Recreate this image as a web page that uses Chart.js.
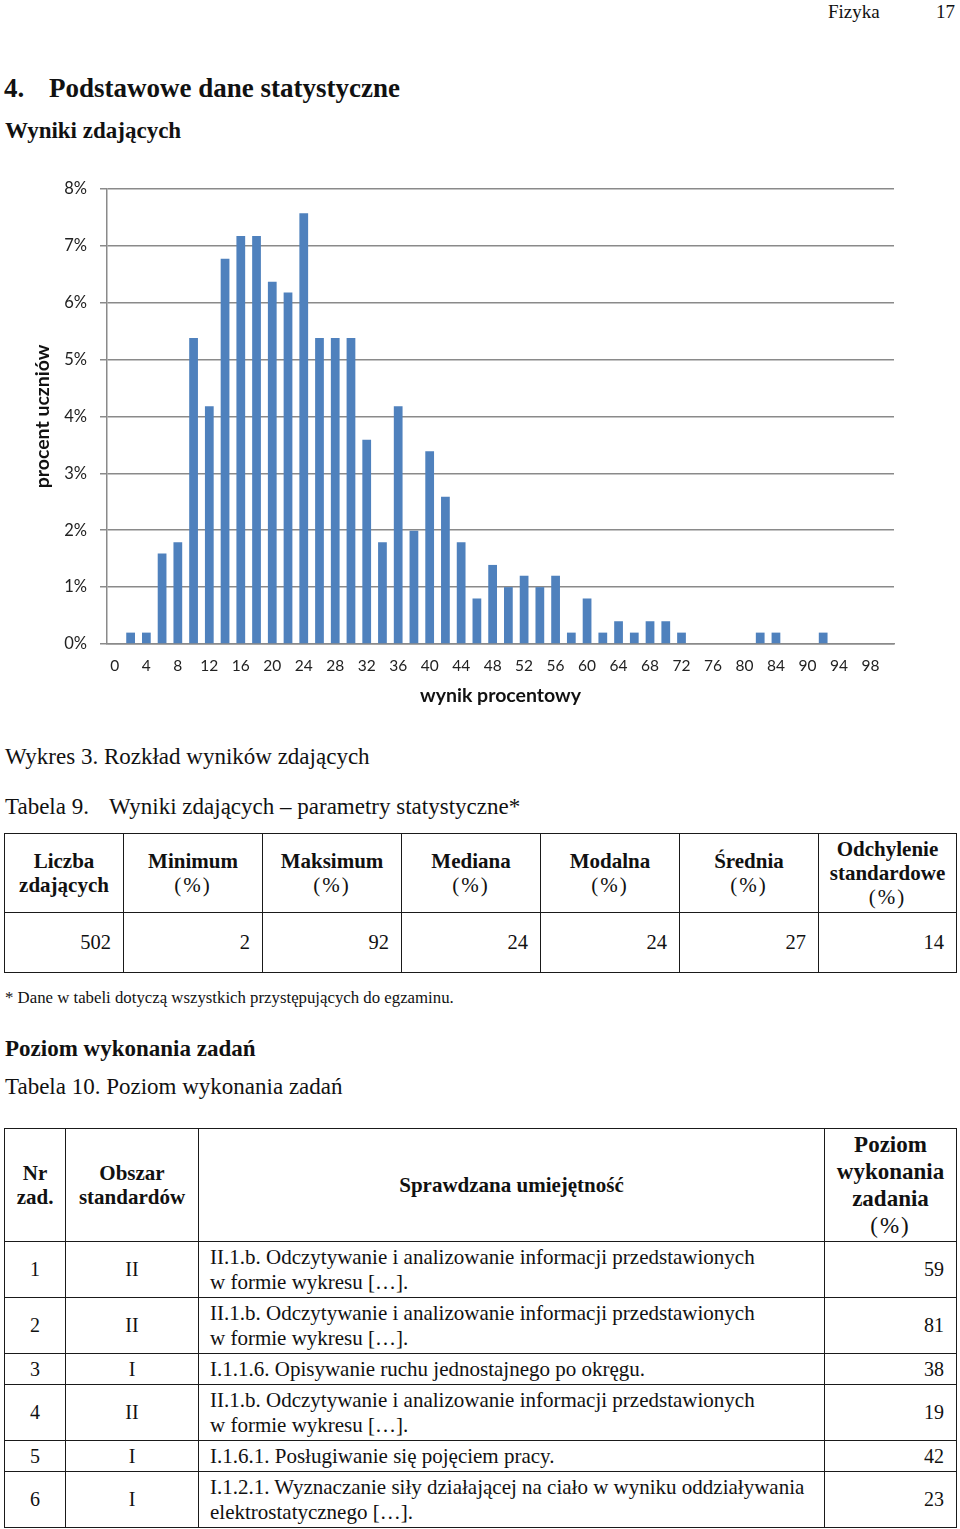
<!DOCTYPE html>
<html lang="pl">
<head>
<meta charset="utf-8">
<title>Rozkład wyników zdających</title>
<script src="https://cdn.jsdelivr.net/npm/chart.js@4.4.1/dist/chart.umd.min.js"></script>
<style>
  html, body { margin: 0; padding: 0; background: #fff; }
  body { width: 960px; height: 1529px; position: relative; overflow: hidden;
         font-family: "Liberation Serif", "Times New Roman", serif; color: #111; }
  .t { position: absolute; white-space: nowrap; line-height: 1; }
  #chartBox { position: absolute; left: 0; top: 166px; width: 910px; height: 549px; }
  table { position: absolute; border-collapse: collapse; table-layout: fixed; }
  td, th { border: 1.5px solid #1a1a1a; padding: 0; }
  #tab9 { left: 4px; top: 833px; width: 952px; }
  #tab9 th { font-weight: bold; font-size: 21px; line-height: 24px; text-align: center; vertical-align: middle; }
  #tab9 td { font-size: 20.5px; text-align: right; padding-right: 12px; }
  .pc { font-weight: normal; letter-spacing: 2px; }
  #tab10 { left: 4px; top: 1128px; width: 952px; }
  #tab10 th { font-weight: bold; font-size: 21px; line-height: 27px; text-align: center; vertical-align: middle; }
  #tab10 th.big { font-size: 23px; }
  #tab10 td { font-size: 21px; line-height: 25px; vertical-align: middle; }
  #tab10 td.c { text-align: center; font-size: 20px; }
  #tab10 td.l { text-align: left; padding-left: 11px; }
  #tab10 td.r { text-align: right; padding-right: 12px; font-size: 20px; }
</style>
</head>
<body>
<div class="t" style="left:828px; top:2px; font-size:19px;">Fizyka</div>
<div class="t" style="left:936px; top:2px; font-size:19px;">17</div>
<div class="t" style="left:4px; top:75px; font-size:27px; font-weight:bold;">4.</div>
<div class="t" style="left:49px; top:75px; font-size:27px; font-weight:bold;">Podstawowe dane statystyczne</div>
<div class="t" style="left:5px; top:119px; font-size:23px; font-weight:bold;">Wyniki zdających</div>

<div id="chartBox"><canvas id="distChart"></canvas></div>

<div class="t" style="left:5px; top:745px; font-size:23px;">Wykres 3. Rozkład wyników zdających</div>
<div class="t" style="left:5px; top:795px; font-size:23px;">Tabela 9.</div>
<div class="t" style="left:109px; top:795px; font-size:23px;">Wyniki zdających – parametry statystyczne*</div>

<table id="tab9">
  <colgroup><col style="width:119px"><col style="width:139px"><col style="width:139px"><col style="width:139px"><col style="width:139px"><col style="width:139px"><col style="width:138px"></colgroup>
  <tr style="height:79px">
    <th>Liczba<br>zdających</th>
    <th>Minimum<br><span class="pc">(%)</span></th>
    <th>Maksimum<br><span class="pc">(%)</span></th>
    <th>Mediana<br><span class="pc">(%)</span></th>
    <th>Modalna<br><span class="pc">(%)</span></th>
    <th>Średnia<br><span class="pc">(%)</span></th>
    <th>Odchylenie<br>standardowe<br><span class="pc">(%)</span></th>
  </tr>
  <tr style="height:60px" id="statRow"></tr>
</table>

<div class="t" style="left:5px; top:990px; font-size:16.8px;">* Dane w tabeli dotyczą wszystkich przystępujących do egzaminu.</div>
<div class="t" style="left:5px; top:1037px; font-size:23px; font-weight:bold;">Poziom wykonania zadań</div>
<div class="t" style="left:5px; top:1075px; font-size:23px;">Tabela 10. Poziom wykonania zadań</div>

<table id="tab10">
  <colgroup><col style="width:61px"><col style="width:133px"><col style="width:626px"><col style="width:132px"></colgroup>
  <thead>
  <tr style="height:113px">
    <th style="line-height:24px">Nr<br>zad.</th>
    <th style="line-height:24px">Obszar<br>standardów</th>
    <th>Sprawdzana umiejętność</th>
    <th class="big">Poziom<br>wykonania<br>zadania<br><span class="pc">(%)</span></th>
  </tr>
  </thead>
  <tbody id="taskRows"></tbody>
</table>

<script>
// Wynik procentowy (kategorie osi X) - co druga etykieta jest pokazywana
const scores = [0, 2, 4, 6, 8, 10, 12, 14, 16, 18, 20, 22, 24, 26, 28, 30, 32, 34, 36, 38,
                40, 42, 44, 46, 48, 50, 52, 54, 56, 58, 60, 62, 64, 66, 68, 70, 72, 74, 76, 78,
                80, 82, 84, 88, 90, 92, 94, 96, 98, 100];

// Procent uczniów dla każdego wyniku
const percentStudents = [0, 0.20, 0.20, 1.59, 1.79, 5.38, 4.18, 6.77, 7.17, 7.17,
                         6.37, 6.18, 7.57, 5.38, 5.38, 5.38, 3.59, 1.79, 4.18, 1.99,
                         3.39, 2.59, 1.79, 0.80, 1.39, 1.00, 1.20, 1.00, 1.20, 0.20,
                         0.80, 0.20, 0.40, 0.20, 0.40, 0.40, 0.20, 0, 0, 0,
                         0, 0.20, 0.20, 0, 0, 0.20, 0, 0, 0, 0];

const yTicks = [0, 1, 2, 3, 4, 5, 6, 7, 8];

// Tabela 9
const statValues = [502, 2, 92, 24, 24, 27, 14];

// Tabela 10
const taskNumbers = [1, 2, 3, 4, 5, 6];
const taskAreas = ['II', 'II', 'I', 'II', 'I', 'I'];
const taskSkills = [
    'II.1.b. Odczytywanie i analizowanie informacji przedstawionych<br>w formie wykresu […].',
    'II.1.b. Odczytywanie i analizowanie informacji przedstawionych<br>w formie wykresu […].',
    'I.1.1.6. Opisywanie ruchu jednostajnego po okręgu.',
    'II.1.b. Odczytywanie i analizowanie informacji przedstawionych<br>w formie wykresu […].',
    'I.1.6.1. Posługiwanie się pojęciem pracy.',
    'I.1.2.1. Wyznaczanie siły działającej na ciało w wyniku oddziaływania<br>elektrostatycznego […].'
];
const taskLevels = [59, 81, 38, 19, 42, 23];

// Fill tables
document.getElementById('statRow').innerHTML = statValues.map(v => `<td>${v}</td>`).join('');
document.getElementById('taskRows').innerHTML = taskNumbers.map((n, i) => {
    const h = taskSkills[i].includes('<br>') ? 56 : 31;
    return `<tr style="height:${h}px"><td class="c">${n}</td><td class="c">${taskAreas[i]}</td>` +
           `<td class="l">${taskSkills[i]}</td><td class="r">${taskLevels[i]}</td></tr>`;
}).join('');

const gridGray = '#8a8a8a';
const ctx = document.getElementById('distChart').getContext('2d');

new Chart(ctx, {
    type: 'bar',
    data: {
        labels: scores,
        datasets: [{
            data: percentStudents,
            backgroundColor: '#4f81bd',
            borderWidth: 0,
            barPercentage: 0.556,
            categoryPercentage: 1.0
        }]
    },
    options: {
        responsive: true,
        maintainAspectRatio: false,
        animation: false,
        layout: { padding: { top: 13, right: 16, left: 0, bottom: 0 } },
        plugins: {
            legend: { display: false },
            tooltip: { enabled: false }
        },
        scales: {
            x: {
                grid: { display: false },
                border: { display: true, color: gridGray, width: 1.5 },
                ticks: {
                    autoSkip: false,
                    maxRotation: 0,
                    padding: 5,
                    color: '#222',
                    font: { family: 'Lato', size: 15.5 },
                    callback: function(value, index) {
                        return index % 2 === 0 ? String(scores[index]) : null;
                    }
                },
                title: {
                    display: true,
                    text: 'wynik procentowy',
                    color: '#111',
                    font: { family: 'Lato', size: 19.5, weight: 'bold' },
                    padding: { top: 0, bottom: 7.5 }
                },
                afterFit: scale => { scale.height = 71; }
            },
            y: {
                min: 0,
                max: 8,
                afterBuildTicks: scale => { scale.ticks = yTicks.map(v => ({ value: v })); },
                grid: { color: gridGray, lineWidth: 1.5, tickLength: 7 },
                border: { display: true, color: gridGray, width: 1.5 },
                ticks: {
                    padding: 13,
                    color: '#222',
                    font: { family: 'Lato', size: 16.5 },
                    callback: value => value + '%'
                },
                title: {
                    display: true,
                    text: 'procent uczniów',
                    color: '#111',
                    font: { family: 'Lato', size: 19.5, weight: 'bold' },
                    padding: { top: 31, bottom: 0 }
                },
                afterFit: scale => { scale.width = 107; }
            }
        }
    }
});
</script>
</body>
</html>
